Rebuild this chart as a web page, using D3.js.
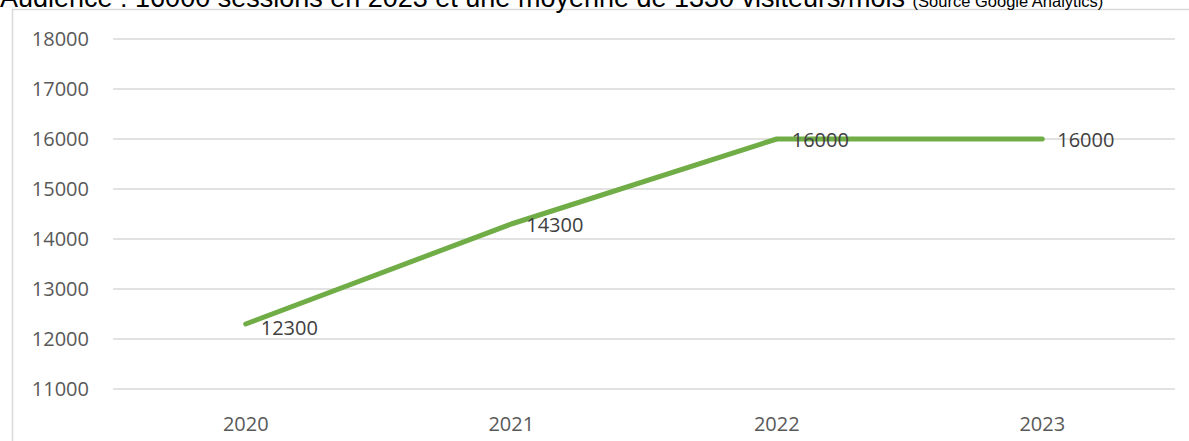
<!DOCTYPE html>
<html>
<head>
    <meta charset="utf-8">
    <title>Audience</title>
    <script src="https://d3js.org/d3.v7.min.js"></script>
    <style>
        body { margin: 0; background: #fff; }
        text { font-family: "Liberation Sans", Arial, sans-serif; }
        .axis text { font-family: "Open Sans", sans-serif; font-size: 20px; fill: #595959; }
        .lbl { font-family: "Open Sans", sans-serif; font-size: 20px; fill: #404040; }
    </style>
</head>
<body>
<svg width="1189" height="441"></svg>
<script>
    // data
    var years = ["2020", "2021", "2022", "2023"];
    var sessions = [12300, 14300, 16000, 16000];
    var yTicks = [11000, 12000, 13000, 14000, 15000, 16000, 17000, 18000];

    var svg = d3.select("svg");

    // chart frame (cut at right and bottom)
    svg.append("rect")
        .attr("x", 12.5).attr("y", 9.5)
        .attr("width", 1200).attr("height", 460)
        .attr("fill", "none").attr("stroke", "#d9d9d9").attr("stroke-width", 1.5);

    // title, partly cut off at the top like in the source
    var title = svg.append("text").attr("x", 0).attr("y", 7).attr("fill", "#000");
    title.append("tspan").attr("font-size", "27px")
        .text("Audience : 16000 sessions en 2023 et une moyenne de 1330 visiteurs/mois ");
    title.append("tspan").attr("font-size", "16.5px")
        .text("(Source Google Analytics)");

    var x = d3.scaleBand().domain(years).range([113, 1175]);
    var y = d3.scaleLinear().domain([11000, 18000]).range([389, 39]);

    // gridlines
    svg.append("g").selectAll("line").data(yTicks).enter().append("line")
        .attr("x1", 113).attr("x2", 1175)
        .attr("y1", d => y(d)).attr("y2", d => y(d))
        .attr("stroke", "#d9d9d9").attr("stroke-width", 1.5);

    // y axis labels
    svg.append("g").attr("class", "axis")
        .selectAll("text").data(yTicks).enter().append("text")
        .attr("x", 89).attr("y", d => y(d))
        .attr("dy", "0.35em").attr("text-anchor", "end")
        .text(d => d);

    // x axis labels
    svg.append("g").attr("class", "axis")
        .selectAll("text").data(years).enter().append("text")
        .attr("x", d => x(d) + x.bandwidth() / 2).attr("y", 424)
        .attr("dy", "0.35em").attr("text-anchor", "middle")
        .text(d => d);

    var pts = years.map((d, i) => [x(d) + x.bandwidth() / 2, y(sessions[i])]);

    svg.append("path")
        .datum(pts)
        .attr("d", d3.line())
        .attr("fill", "none")
        .attr("stroke", "#70ad47")
        .attr("stroke-width", 5)
        .attr("stroke-linecap", "round")
        .attr("stroke-linejoin", "round");

    // data labels
    svg.append("g").selectAll("text").data(sessions).enter().append("text")
        .attr("class", "lbl")
        .attr("x", (d, i) => pts[i][0] + 15)
        .attr("y", (d, i) => pts[i][1] + (i == 0 ? 4 : 1))
        .attr("dy", "0.35em")
        .text(d => d);
</script>
</body>
</html>
